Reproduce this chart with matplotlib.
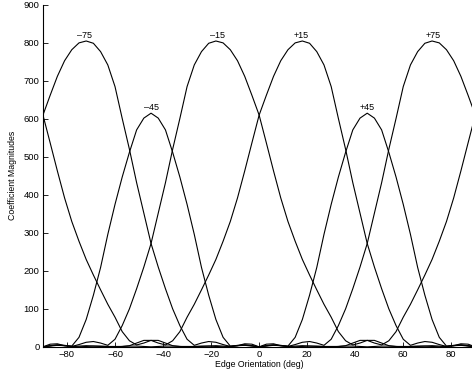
import numpy as np
import matplotlib
matplotlib.use("Agg")
import matplotlib.pyplot as plt

# ==========================================
# edge orientation samples (deg), one every 3 deg
orientation = list(range(-90, 91, 3))

# coefficient magnitudes of each filter
coef_m75 = [610, 662, 712, 753, 782, 800, 805, 799, 777, 742,
            685, 601, 520, 432, 352, 272, 210, 153, 100, 56,
            20, 4, 10, 14, 12, 6, 1, 3, 5, 3,
            0, 2, 4, 3, 1, 2, 3, 2, 1, 1,
            1, 1, 3, 10, 17, 17, 10, 5, 16, 40,
            78, 112, 150, 189, 230, 278, 330, 392, 463, 537,
            610]
coef_m45 = [0, 7, 8, 3, 2, 25, 72, 136, 209, 296,
            375, 447, 512, 571, 602, 615, 602, 571, 512, 447,
            375, 296, 209, 136, 72, 25, 2, 3, 8, 7,
            0, 3, 5, 4, 1, 0, 1, 2, 2, 1,
            0, 1, 2, 2, 1, 0, 1, 2, 2, 1,
            0, 1, 2, 2, 1, 0, 1, 4, 5, 3,
            0]
coef_m15 = [0, 3, 5, 3, 1, 6, 12, 14, 10, 4,
            20, 56, 100, 153, 210, 272, 352, 432, 520, 601,
            685, 742, 777, 799, 805, 800, 782, 753, 712, 662,
            610, 537, 463, 392, 330, 278, 230, 189, 150, 112,
            78, 40, 16, 5, 10, 17, 17, 10, 3, 1,
            1, 1, 1, 2, 3, 2, 1, 3, 4, 2,
            0]
coef_p15 = [0, 2, 4, 3, 1, 2, 3, 2, 1, 1,
            1, 1, 3, 10, 17, 17, 10, 5, 16, 40,
            78, 112, 150, 189, 230, 278, 330, 392, 463, 537,
            610, 662, 712, 753, 782, 800, 805, 799, 777, 742,
            685, 601, 520, 432, 352, 272, 210, 153, 100, 56,
            20, 4, 10, 14, 12, 6, 1, 3, 5, 3,
            0]
coef_p45 = [0, 3, 5, 4, 1, 0, 1, 2, 2, 1,
            0, 1, 2, 2, 1, 0, 1, 2, 2, 1,
            0, 1, 2, 2, 1, 0, 1, 4, 5, 3,
            0, 7, 8, 3, 2, 25, 72, 136, 209, 296,
            375, 447, 512, 571, 602, 615, 602, 571, 512, 447,
            375, 296, 209, 136, 72, 25, 2, 3, 8, 7,
            0]
coef_p75 = [610, 537, 463, 392, 330, 278, 230, 189, 150, 112,
            78, 40, 16, 5, 10, 17, 17, 10, 3, 1,
            1, 1, 1, 2, 3, 2, 1, 3, 4, 2,
            0, 3, 5, 3, 1, 6, 12, 14, 10, 4,
            20, 56, 100, 153, 210, 272, 352, 432, 520, 601,
            685, 742, 777, 799, 805, 800, 782, 753, 712, 662,
            610]

filter_names = ["\u201375", "\u201345", "\u201315", "+15", "+45", "+75"]
label_x = [-72.5, -45, -17.5, 17.5, 45, 72.5]

# ==========================================
plt.rcParams['font.family'] = ['Liberation Sans', 'DejaVu Sans']

fig = plt.figure(figsize=(4.72, 3.77), dpi=100)
ax = fig.add_axes([0.091, 0.080, 0.916, 0.907])

curves = [coef_m75, coef_m45, coef_m15, coef_p15, coef_p45, coef_p75]
for vals in curves:
    ax.plot(orientation, vals, color='k', lw=0.8)

for name, lx, vals in zip(filter_names, label_x, curves):
    ax.text(lx, max(vals) + 2, name, ha='center', va='bottom', fontsize=6.5)

ax.set_xlim(-90, 90)
ax.set_ylim(0, 900)
ax.set_xticks(range(-80, 81, 20))
ax.set_yticks(range(0, 901, 100))
ax.tick_params(direction='in', length=3.5, width=0.6, labelsize=6.8, pad=2.5)
for s in ['top', 'right']:
    ax.spines[s].set_visible(False)
for s in ['left', 'bottom']:
    ax.spines[s].set_linewidth(0.8)

ax.set_xlabel('Edge Orientation (deg)', fontsize=6.3, labelpad=0.5)
ax.set_ylabel('Coefficient Magnitudes', fontsize=6.3, labelpad=5)

fig.savefig('out.png', dpi=100)
